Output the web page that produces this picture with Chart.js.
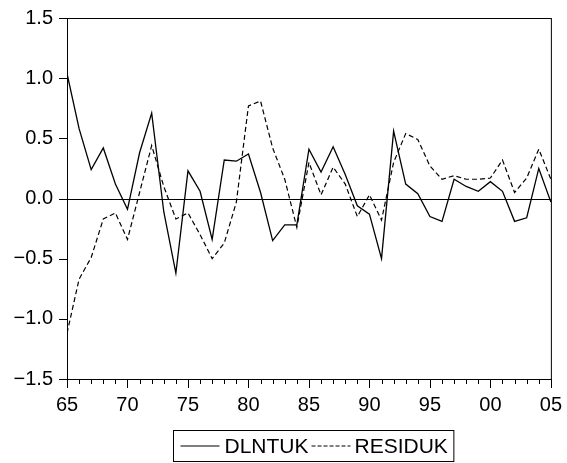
<!DOCTYPE html>
<html>
<head>
<meta charset="utf-8">
<script src="https://cdn.jsdelivr.net/npm/chart.js@4/dist/chart.umd.min.js"></script>
<style>
  html, body { margin: 0; padding: 0; background: #fff; }
  canvas { display: block; }
</style>
</head>
<body>
<canvas id="chart" width="567" height="463"></canvas>
<script>
// years 1965..2005
const years = [];
for (let y = 1965; y <= 2005; y++) years.push(y);

const dlntuk = [
    1.04, 0.58, 0.24, 0.42, 0.12, -0.09, 0.38, 0.71, -0.11, -0.62,
    0.23, 0.06, -0.34, 0.32, 0.31, 0.37, 0.05, -0.35, -0.22, -0.22,
    0.41, 0.22, 0.43, 0.20, -0.06, -0.13, -0.50, 0.56, 0.12, 0.04,
    -0.15, -0.19, 0.16, 0.10, 0.06, 0.14, 0.06, -0.19, -0.16, 0.25,
    -0.03
];
const residuk = [
    -1.12, -0.67, -0.49, -0.17, -0.12, -0.34, 0.05, 0.44, 0.10, -0.17,
    -0.12, -0.30, -0.50, -0.37, -0.03, 0.77, 0.81, 0.42, 0.16, -0.24,
    0.30, 0.03, 0.26, 0.12, -0.15, 0.03, -0.18, 0.30, 0.54, 0.49,
    0.27, 0.16, 0.19, 0.16, 0.16, 0.17, 0.32, 0.05, 0.17, 0.41,
    0.16
];
const seriesNames = ['DLNTUK', 'RESIDUK'];
const yTicks = [-1.5, -1.0, -0.5, 0.0, 0.5, 1.0, 1.5];

const FONT = '"Liberation Sans", Arial, Helvetica, sans-serif';

const framePlugin = {
    id: 'frame',
    afterDraw(chart) {
        const ctx = chart.ctx;
        const a = chart.chartArea;
        const xs = chart.scales.x;
        const ys = chart.scales.y;
        ctx.save();
        ctx.strokeStyle = '#000';
        ctx.lineWidth = 1;
        // box
        ctx.strokeRect(a.left + 0.5, a.top + 0.5, a.right - a.left, a.bottom - a.top);
        // zero line
        const y0 = Math.round(ys.getPixelForValue(0)) + 0.5;
        ctx.beginPath();
        ctx.moveTo(a.left, y0);
        ctx.lineTo(a.right, y0);
        ctx.stroke();
        // x ticks, longer every 5 years
        ctx.beginPath();
        for (const yr of years) {
            const px = Math.round(xs.getPixelForValue(yr)) + 0.5;
            const len = yr % 5 === 0 ? 9 : 5;
            ctx.moveTo(px, a.bottom);
            ctx.lineTo(px, a.bottom + len);
        }
        // y ticks
        for (const v of yTicks) {
            const py = Math.round(ys.getPixelForValue(v)) + 0.5;
            ctx.moveTo(a.left - 8, py);
            ctx.lineTo(a.left, py);
        }
        ctx.stroke();

        // legend
        ctx.font = '21px ' + FONT;
        ctx.fillStyle = '#000';
        ctx.textBaseline = 'middle';
        const sample = 39;
        const w1 = ctx.measureText(seriesNames[0]).width;
        const w2 = ctx.measureText(seriesNames[1]).width;
        const total = 7 + sample + 5 + w1 + 3 + sample + 4 + w2 + 6;
        const cx = (a.left + a.right) / 2 + 4;
        const bx = Math.round(cx - total / 2) + 0.5;
        const by = 430.5;
        const bh = 31;
        ctx.strokeRect(bx, by, total, bh);
        const my = by + bh / 2;
        let x = bx + 7;
        ctx.lineWidth = 1.2;
        ctx.beginPath();
        ctx.moveTo(x, my); ctx.lineTo(x + sample, my);
        ctx.stroke();
        x += sample + 5;
        ctx.fillText(seriesNames[0], x, my + 1);
        x += w1 + 3;
        ctx.setLineDash([4, 2]);
        ctx.beginPath();
        ctx.moveTo(x, my); ctx.lineTo(x + sample, my);
        ctx.stroke();
        ctx.setLineDash([]);
        x += sample + 4;
        ctx.fillText(seriesNames[1], x, my + 1);
        ctx.restore();
    }
};

const canv = document.getElementById('chart').getContext('2d');
const graph = new Chart(canv, {
    type: 'line',
    data: {
        datasets: [{
            label: seriesNames[0],
            data: years.map((y, i) => ({x: y, y: dlntuk[i]})),
            borderColor: '#000',
            borderWidth: 1.3,
            pointRadius: 0,
            fill: false,
            tension: 0
        }, {
            label: seriesNames[1],
            data: years.map((y, i) => ({x: y, y: residuk[i]})),
            borderColor: '#000',
            borderWidth: 1.2,
            borderDash: [5, 3],
            pointRadius: 0,
            fill: false,
            tension: 0
        }]
    },
    options: {
        responsive: false,
        animation: false,
        layout: {
            padding: {left: 0, right: 16, top: 13, bottom: 0}
        },
        plugins: {
            legend: {display: false},
            tooltip: {enabled: false}
        },
        scales: {
            x: {
                type: 'linear',
                min: 1965,
                max: 2005,
                border: {display: false},
                grid: {display: false, drawTicks: true, tickLength: 9},
                afterBuildTicks: (scale) => {
                    scale.ticks = years.filter(y => y % 5 === 0).map(v => ({value: v}));
                },
                afterFit: (scale) => { scale.height = 84; },
                ticks: {
                    autoSkip: false,
                    maxRotation: 0,
                    padding: 5,
                    color: '#000',
                    font: {family: FONT, size: 20},
                    callback: (v) => String(v % 100).padStart(2, '0')
                }
            },
            y: {
                min: -1.5,
                max: 1.5,
                border: {display: false},
                grid: {display: false, drawTicks: true, tickLength: 8},
                afterBuildTicks: (scale) => {
                    scale.ticks = yTicks.map(v => ({value: v}));
                },
                afterFit: (scale) => { scale.width = 67; },
                ticks: {
                    padding: 6,
                    color: '#000',
                    font: {family: FONT, size: 20},
                    callback: (v) => (v < 0 ? '\u2212' : '') + Math.abs(v).toFixed(1)
                }
            }
        }
    },
    plugins: [framePlugin]
});
</script>
</body>
</html>
